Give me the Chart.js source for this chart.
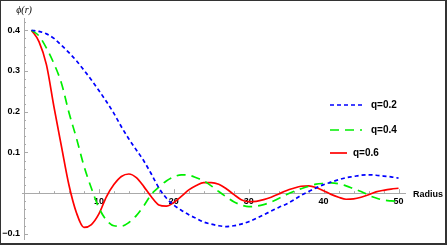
<!DOCTYPE html>
<html>
<head>
<meta charset="utf-8">
<script src="https://cdn.jsdelivr.net/npm/chart.js@4.4.1/dist/chart.umd.min.js"></script>
<style>
  html, body { margin: 0; padding: 0; background: #fff; }
  #wrap { width: 447px; height: 245px; position: relative; }
</style>
</head>
<body>
<div id="wrap"><canvas id="phiChart"></canvas></div>
<script>
// values, one per unit of radius
var radius = [];
for (var i = 1; i <= 50; i++) radius.push(i);

var q02 = [0.400, 0.397, 0.391, 0.380, 0.363, 0.345, 0.325, 0.302, 0.278, 0.252,
           0.225, 0.196, 0.163, 0.133, 0.106, 0.079, 0.047, 0.013, -0.012, -0.029,
           -0.042, -0.053, -0.062, -0.071, -0.076, -0.080, -0.082, -0.080, -0.076, -0.070,
           -0.062, -0.053, -0.044, -0.035, -0.027, -0.017, -0.005, 0.004, 0.013, 0.021,
           0.027, 0.033, 0.038, 0.041, 0.044, 0.045, 0.044, 0.042, 0.040, 0.037];

var q04 = [0.400, 0.386, 0.356, 0.318, 0.270, 0.198, 0.135, 0.067, 0.012, -0.036,
           -0.066, -0.080, -0.081, -0.072, -0.055, -0.031, -0.003, 0.015, 0.030, 0.040,
           0.045, 0.044, 0.038, 0.030, 0.018, 0.004, -0.009, -0.021, -0.029, -0.033,
           -0.032, -0.028, -0.022, -0.013, -0.004, 0.004, 0.011, 0.017, 0.022, 0.024,
           0.025, 0.023, 0.018, 0.011, 0.004, -0.005, -0.012, -0.017, -0.019, -0.020];

var q06 = [0.400, 0.372, 0.315, 0.212, 0.115, 0.020, -0.048, -0.084, -0.077, -0.051,
           -0.009, 0.021, 0.041, 0.047, 0.038, 0.016, -0.009, -0.029, -0.032, -0.023,
           -0.008, 0.008, 0.019, 0.026, 0.026, 0.022, 0.011, -0.003, -0.016, -0.021,
           -0.020, -0.016, -0.010, -0.002, 0.006, 0.012, 0.017, 0.018, 0.014, 0.006,
           -0.003, -0.010, -0.015, -0.014, -0.010, -0.004, 0.003, 0.007, 0.010, 0.012];

var seriesNames = ["q=0.2", "q=0.4", "q=0.6"];
var xTicks = [10, 20, 30, 40, 50];
var yTicks = [-0.1, 0.1, 0.2, 0.3, 0.4];
var yTickLabels = ["\u22120.1", "0.1", "0.2", "0.3", "0.4"];

function pts(ys) {
    return radius.map(function (r, k) { return { x: r, y: ys[k] }; });
}

// mathematica style axes crossing at the origin, frame and legend
var axesPlugin = {
    id: 'mmaAxes',
    beforeDatasetsDraw: function (chart) {
        var ctx = chart.ctx, xs = chart.scales.x, ys = chart.scales.y;
        var x0 = xs.getPixelForValue(0), y0 = ys.getPixelForValue(0);
        ctx.save();
        ctx.strokeStyle = "#aaaaaa";
        ctx.lineWidth = 1;
        ctx.beginPath();
        ctx.moveTo(x0 - 2, Math.round(y0) + 0.5);
        ctx.lineTo(xs.right, Math.round(y0) + 0.5);
        ctx.moveTo(Math.round(x0) + 0.5, ys.top);
        ctx.lineTo(Math.round(x0) + 0.5, ys.bottom);
        // x ticks
        for (var v = 2; v <= 50; v += 2) {
            var px = Math.round(xs.getPixelForValue(v)) + 0.5;
            var len = (v % 10 === 0) ? 4 : 2;
            ctx.moveTo(px, y0);
            ctx.lineTo(px, y0 - len);
        }
        // y ticks
        for (var k = -5; k <= 21; k++) {
            var py = Math.round(ys.getPixelForValue(k * 0.02)) + 0.5;
            var l2 = (k % 5 === 0) ? 4 : 2;
            ctx.moveTo(x0, py);
            ctx.lineTo(x0 + l2, py);
        }
        ctx.stroke();

        ctx.fillStyle = "#000";
        ctx.font = "bold 9px 'Liberation Sans', Arial, sans-serif";
        ctx.textAlign = "center";
        ctx.textBaseline = "middle";
        xTicks.forEach(function (t) {
            ctx.fillText(String(t), xs.getPixelForValue(t), y0 + 8);
        });
        ctx.textAlign = "right";
        yTicks.forEach(function (t, k) {
            ctx.fillText(yTickLabels[k], x0 - 4, ys.getPixelForValue(t));
        });
        ctx.textAlign = "left";
        ctx.fillText("Radius", 413, y0 + 1);
        ctx.font = "italic 10px 'Liberation Serif', serif";
        ctx.textAlign = "center";
        ctx.fillText("\u03d5(r)", x0, 10);
        ctx.restore();
    },
    afterDraw: function (chart) {
        var ctx = chart.ctx;
        ctx.save();
        // legend
        var rows = [105, 130, 153];
        var lineEnd = [363, 362, 347];
        var textX = [371, 371, 353];
        chart.data.datasets.forEach(function (ds, k) {
            ctx.strokeStyle = ds.borderColor;
            ctx.lineWidth = ds.borderWidth;
            ctx.setLineDash(ds.borderDash || []);
            ctx.beginPath();
            ctx.moveTo(330, rows[k]);
            ctx.lineTo(lineEnd[k], rows[k]);
            ctx.stroke();
            ctx.setLineDash([]);
            ctx.fillStyle = "#000";
            ctx.font = "bold 10px 'Liberation Sans', Arial, sans-serif";
            ctx.textAlign = "left";
            ctx.textBaseline = "middle";
            ctx.fillText(ds.label, textX[k], rows[k]);
        });
        // frame
        ctx.strokeStyle = "#333333";
        ctx.lineWidth = 2;
        ctx.strokeRect(0, 0, 446, 244);
        ctx.restore();
    }
};

var phiCanvas = document.getElementById("phiChart");
var PhiChart = new Chart(phiCanvas, {
    type: 'line',
    data: {
        datasets: [{
            label: seriesNames[0],
            data: pts(q02),
            borderColor: "#0000ff",
            borderWidth: 1.7,
            borderDash: [4, 3]
        }, {
            label: seriesNames[1],
            data: pts(q04),
            borderColor: "#00ee00",
            borderWidth: 1.7,
            borderDash: [9, 6]
        }, {
            label: seriesNames[2],
            data: pts(q06),
            borderColor: "#ff0000",
            borderWidth: 1.7
        }]
    },
    plugins: [axesPlugin],
    options: {
        responsive: true,
        maintainAspectRatio: false,
        animation: false,
        layout: { padding: { left: 24, right: 41, top: 18, bottom: 5 } },
        elements: {
            point: { radius: 0 },
            line: { cubicInterpolationMode: 'monotone' }
        },
        plugins: {
            legend: { display: false },
            tooltip: { enabled: false }
        },
        scales: {
            x: { type: 'linear', min: 0, max: 51, display: false },
            y: { min: -0.115, max: 0.43, display: false }
        }
    }
});
</script>
</body>
</html>
